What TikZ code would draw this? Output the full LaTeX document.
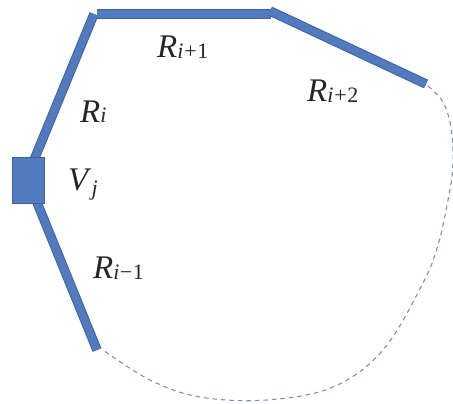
\documentclass[tikz,border=0pt]{standalone}
\usepackage{fontspec}
\setmainfont{Liberation Serif}
\definecolor{barfill}{RGB}{82,122,190}
\definecolor{baredge}{RGB}{62,98,160}
\definecolor{dashcol}{RGB}{125,145,180}
\newcommand{\lbl}[1]{{\fontsize{33}{33}\selectfont\textit{R}}\raisebox{-1pt}{\fontsize{22}{22}\selectfont #1}}
\tikzset{
  baredgestyle/.style={line width=9.5pt, baredge, line cap=butt},
  barinner/.style={line width=7.5pt, barfill, line cap=butt},
  lab/.style={anchor=base west, inner sep=0pt, text=black!85},
  dashline/.style={dashcol, line width=1.1pt, dash pattern=on 4.5pt off 4pt}
}
\begin{document}
\begin{tikzpicture}[x=1pt,y=-1pt]
\useasboundingbox (0,0) rectangle (453,404);
% coordinates
\coordinate (a0) at (36,200);
\coordinate (a1) at (97,350);
\coordinate (b0) at (34,160);
\coordinate (b1) at (94,14);
\coordinate (c0) at (97,14);
\coordinate (c1) at (271,14);
\coordinate (d0) at (270,11);
\coordinate (d1) at (426,84);
% dashed closing curve
\draw[dashline] plot[smooth, tension=0.6] coordinates {(428,86) (443,102) (451,128) (453,165) (448,200) (438,245) (423,283) (383,350) (333,387) (267,400) (200,397) (150,380) (103,350)};
% bars
\foreach \p/\q in {a0/a1,b0/b1,c0/c1,d0/d1}{
  \draw[baredgestyle] (\p) -- (\q);
  \draw[barinner] (\p) -- (\q);
}
% vertex box
\node[draw=baredge, fill=barfill, line width=1pt, minimum width=32pt, minimum height=46pt, inner sep=0pt] (vj) at (28,180) {};
% labels
\node[lab] (ri1) at (157,58) {\lbl{\textit{i}\hspace{1pt}+\hspace{0.5pt}1}};
\node[lab] (ri) at (80,122) {\lbl{\textit{i}}};
\node[lab] (rim) at (93,278) {\lbl{\textit{i}\hspace{0.5pt}−\hspace{0.5pt}1}};
\node[lab] (ri2) at (307,102) {\lbl{\textit{i}\hspace{1pt}+\hspace{0.5pt}2}};
\node[lab] (vjl) at (68,190) {{\fontsize{33}{33}\selectfont\textit{V}}\raisebox{-5pt}{\fontsize{22}{22}\selectfont\textit{j}}};
\end{tikzpicture}
\end{document}
